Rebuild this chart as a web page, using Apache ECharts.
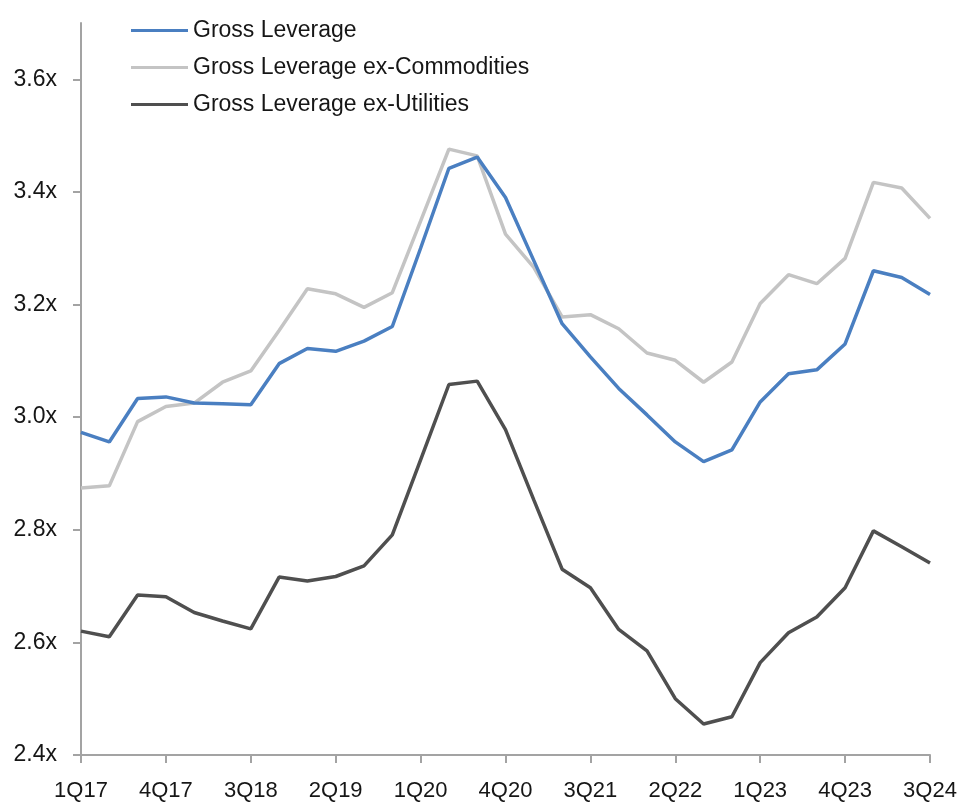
<!DOCTYPE html>
<html>
<head>
<meta charset="utf-8">
<title>Gross Leverage</title>
<script src="https://cdn.jsdelivr.net/npm/echarts@6/dist/echarts.min.js"></script>
<style>
  html, body { margin: 0; padding: 0; background: #ffffff; }
  #chart { width: 964px; height: 808px; }
</style>
</head>
<body>
<div id="chart"></div>
<script>
// Quarterly periods, 1Q17 through 3Q24
const quarters = [
  '1Q17','2Q17','3Q17','4Q17',
  '1Q18','2Q18','3Q18','4Q18',
  '1Q19','2Q19','3Q19','4Q19',
  '1Q20','2Q20','3Q20','4Q20',
  '1Q21','2Q21','3Q21','4Q21',
  '1Q22','2Q22','3Q22','4Q22',
  '1Q23','2Q23','3Q23','4Q23',
  '1Q24','2Q24','3Q24'
];

const grossLeverage = [
  2.973, 2.956, 3.033, 3.036,
  3.025, 3.024, 3.022, 3.095,
  3.122, 3.117, 3.135, 3.161,
  3.300, 3.442, 3.462, 3.390,
  3.278, 3.166, 3.107, 3.051,
  3.004, 2.956, 2.921, 2.942,
  3.027, 3.077, 3.084, 3.130,
  3.260, 3.248, 3.218
];

const grossLeverageExCommodities = [
  2.874, 2.878, 2.992, 3.019,
  3.025, 3.062, 3.082, 3.154,
  3.228, 3.219, 3.195, 3.221,
  3.348, 3.476, 3.464, 3.325,
  3.266, 3.178, 3.182, 3.157,
  3.114, 3.101, 3.062, 3.098,
  3.202, 3.253, 3.237, 3.282,
  3.417, 3.407, 3.353
];

const grossLeverageExUtilities = [
  2.620, 2.610, 2.684, 2.681,
  2.653, 2.638, 2.624, 2.716,
  2.709, 2.717, 2.736, 2.791,
  2.924, 3.058, 3.064, 2.978,
  2.853, 2.730, 2.697, 2.623,
  2.585, 2.500, 2.455, 2.468,
  2.564, 2.617, 2.645, 2.697,
  2.798, 2.770, 2.741
];

// Y-axis tick positions (labelled with an "x" suffix)
const yTicks = [2.4, 2.6, 2.8, 3.0, 3.2, 3.4, 3.6];

const seriesNames = [
  'Gross Leverage',
  'Gross Leverage ex-Commodities',
  'Gross Leverage ex-Utilities'
];
const seriesColors = ['#4a7fc1', '#c4c4c4', '#4f4f4f'];
const seriesData = [grossLeverage, grossLeverageExCommodities, grossLeverageExUtilities];

const FONT = '"Liberation Sans", Arial, sans-serif';
const AXIS_COLOR = '#a3a3a3';
const TEXT_COLOR = '#161616';

const chart = echarts.init(document.getElementById('chart'), null, { renderer: 'canvas' });

chart.setOption({
  backgroundColor: '#ffffff',
  animation: false,
  textStyle: { fontFamily: FONT },
  grid: { left: 81, right: 34, top: 23, bottom: 53, containLabel: false },
  legend: {
    orient: 'vertical',
    left: 126,
    top: 14,
    itemWidth: 57,
    itemHeight: 3,
    itemGap: 14,
    icon: 'rect',
    data: seriesNames,
    textStyle: { fontFamily: FONT, fontSize: 23, color: TEXT_COLOR }
  },
  xAxis: {
    type: 'category',
    data: quarters,
    boundaryGap: false,
    axisLine: { lineStyle: { color: AXIS_COLOR, width: 2 } },
    axisTick: { interval: 2, length: 8, lineStyle: { color: AXIS_COLOR, width: 2 } },
    axisLabel: { interval: 2, margin: 25, fontFamily: FONT, fontSize: 22, color: TEXT_COLOR },
    splitLine: { show: false }
  },
  yAxis: {
    type: 'value',
    min: 2.4,
    max: 3.7,
    interval: 0.2,
    axisLine: { show: true, lineStyle: { color: AXIS_COLOR, width: 2 } },
    axisTick: { show: true, length: 8, customValues: yTicks, lineStyle: { color: AXIS_COLOR, width: 2 } },
    axisLabel: {
      customValues: yTicks,
      margin: 24,
      fontFamily: FONT,
      fontSize: 23,
      color: TEXT_COLOR,
      formatter: v => v.toFixed(1) + 'x'
    },
    splitLine: { show: false }
  },
  series: seriesNames.map((name, i) => ({
    name: name,
    type: 'line',
    data: seriesData[i],
    symbol: 'none',
    smooth: false,
    z: 3 - i,
    lineStyle: { color: seriesColors[i], width: 3.5 },
    itemStyle: { color: seriesColors[i] }
  }))
});
</script>
</body>
</html>
